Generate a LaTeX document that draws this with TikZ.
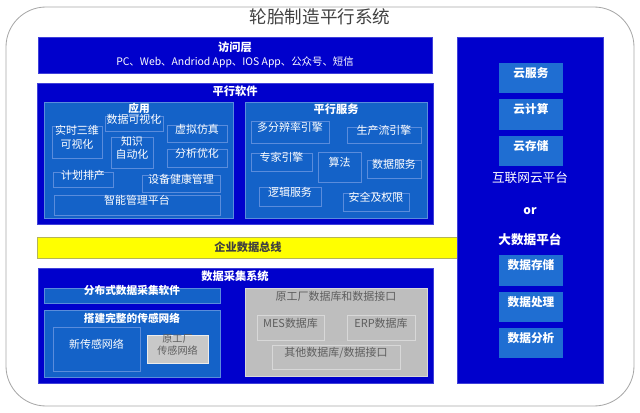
\documentclass[tikz,border=0pt]{standalone}
\usepackage{fontspec}
\setmainfont{Noto Sans CJK SC}
\usetikzlibrary{fit}
\definecolor{deepblue}{HTML}{0000CC}
\definecolor{midblue}{HTML}{1462C8}
\definecolor{lineblue}{HTML}{5A8CDC}
\definecolor{cloudblue}{HTML}{1F6ED2}
\definecolor{panelgray}{HTML}{BEBEBE}
\definecolor{edgegray}{HTML}{D8D8D8}
\definecolor{textgray}{HTML}{5E5E5E}
\definecolor{busyellow}{HTML}{FFFF00}
\definecolor{busedge}{HTML}{B4B45A}
\definecolor{framegray}{HTML}{A8A8A8}
\definecolor{titlegray}{HTML}{404040}
\begin{document}
\begin{tikzpicture}[x=0.025cm,y=-0.025cm,
    layer/.style={fill=deepblue,draw=deepblue!75!white,line width=.5pt,inner sep=0pt},
    group/.style={fill=midblue,draw=lineblue,line width=.4pt,inner sep=0pt},
    item/.style={fill=midblue,draw=lineblue,line width=.3pt,inner sep=0pt,text=white,
        align=center,font=\fontsize{7.8}{9.5}\selectfont},
    cloudbox/.style={fill=cloudblue,inner sep=0pt,text=white,font=\bfseries\fontsize{8.3}{10}\selectfont},
    graybox/.style={fill=panelgray,draw=edgegray,line width=.5pt,inner sep=0pt,text=textgray,
        align=center,font=\fontsize{7.8}{9.5}\selectfont},
    head/.style={text=white,font=\bfseries\fontsize{8}{10}\selectfont}]
\useasboundingbox (0,0) rectangle (640,413);
\node[draw=framegray,line width=.6pt,rounded corners=1cm,inner sep=0pt,fit={(6,7)(634,406)}] (frame) {};
\node[text=titlegray,font=\fontsize{12.5}{14}\selectfont] (title) at (320,17) {轮胎制造平行系统};
% access layer
\node[layer,fit={(38,37)(432,73)}] (access) {};
\node[head] at (235,47) {访问层};
\node[text=white,font=\fontsize{7.4}{9}\selectfont] at (235,62) {PC、Web、Andriod App、IOS App、公众号、短信};
% parallel software
\node[layer,fit={(37,83)(433,224)}] (software) {};
\node[head] at (235,91) {平行软件};
\node[group,fit={(44,102)(233,218)}] (apps) {};
\node[head,font=\bfseries\fontsize{7.6}{9}\selectfont] at (139,108) {应用};
\node[item,fit={(105,116)(163,131)}] (vis) {数据可视化};
\node[item,fit={(52,126)(102,158)}] (rt3d) {实时三维\\可视化};
\node[item,fit={(167,125)(227,142)}] (virt) {虚拟仿真};
\node[item,fit={(111,137)(153,168)}] (know) {知识\\自动化};
\node[item,fit={(167,149)(227,167)}] (optim) {分析优化};
\node[item,fit={(53,172)(113,187)}] (plan) {计划排产};
\node[item,fit={(142,175)(220,192)}] (phm) {设备健康管理};
\node[item,fit={(54,195)(220,215)}] (imp) {智能管理平台};
\node[group,fit={(245,102)(427,218)}] (svc) {};
\node[head] at (336,109) {平行服务};
\node[item,fit={(251,121)(329,143)}] (multi) {多分辨率引擎};
\node[item,fit={(347,127)(421,143)}] (flow) {生产流引擎};
\node[item,fit={(251,153)(312,171)}] (expert) {专家引擎};
\node[item,fit={(318,152)(361,182)}] (algo) {算法};
\node[item,fit={(367,160)(421,178)}] (dsvc) {数据服务};
\node[item,fit={(259,187)(321,206)}] (logic) {逻辑服务};
\node[item,fit={(343,193)(409,211)}] (secur) {安全及权限};
% enterprise bus
\node[fill=busyellow,draw=busedge,line width=.5pt,inner sep=0pt,fit={(37,237)(462,258)}] (bus) {};
\node[text=titlegray,font=\bfseries\fontsize{8}{10}\selectfont] at (248,247.5) {企业数据总线};
% data acquisition
\node[layer,fit={(38,268)(433,383)}] (daq) {};
\node[head] at (235,276) {数据采集系统};
\node[group,text=white,font=\bfseries\fontsize{7.6}{9}\selectfont,fit={(44,288)(220,303)}] (dist) {分布式数据采集软件};
\node[group,fit={(44,310)(220,377)}] (sensor) {};
\node[head,font=\bfseries\fontsize{7.6}{9}\selectfont] at (132,318) {搭建完整的传感网络};
\node[item,fit={(53,327)(140,371)}] (newnet) {新传感网络};
\node[graybox,fill=panelgray!85!white,draw=white!85!gray,font=\fontsize{7.2}{8.4}\selectfont,
    fit={(147,335)(208,363)}] (oldnet) {原工厂\\传感网络};
\node[graybox,fit={(245,288)(427,376)}] (legacy) {};
\node[text=textgray,font=\fontsize{7.8}{9.5}\selectfont] at (336,296) {原工厂数据库和数据接口};
\node[graybox,fit={(257,315)(324,340)}] (mes) {MES数据库};
\node[graybox,fit={(347,315)(415,340)}] (erp) {ERP数据库};
\node[graybox,fit={(272,345)(400,369)}] (other) {其他数据库/数据接口};
% cloud / big data platform
\node[layer,fit={(457,37)(603,383)}] (cloud) {};
\node[cloudbox,fit={(499,63)(563,93)}] (csvc) {云服务};
\node[cloudbox,fit={(499,99)(563,130)}] (ccomp) {云计算};
\node[cloudbox,fit={(499,136)(563,166)}] (cstore) {云存储};
\node[text=white,font=\fontsize{9}{11}\selectfont] (inet) at (530,178) {互联网云平台};
\node[text=white,font=\bfseries\fontsize{8.5}{10}\selectfont] (or) at (530,211) {or};
\node[text=white,font=\bfseries\fontsize{9}{11}\selectfont] (bigdata) at (530,240) {大数据平台};
\node[cloudbox,fit={(499,255)(563,286)}] (dstore) {数据存储};
\node[cloudbox,fit={(499,292)(563,322)}] (dproc) {数据处理};
\node[cloudbox,fit={(499,328)(563,358)}] (dana) {数据分析};
\end{tikzpicture}
\end{document}
